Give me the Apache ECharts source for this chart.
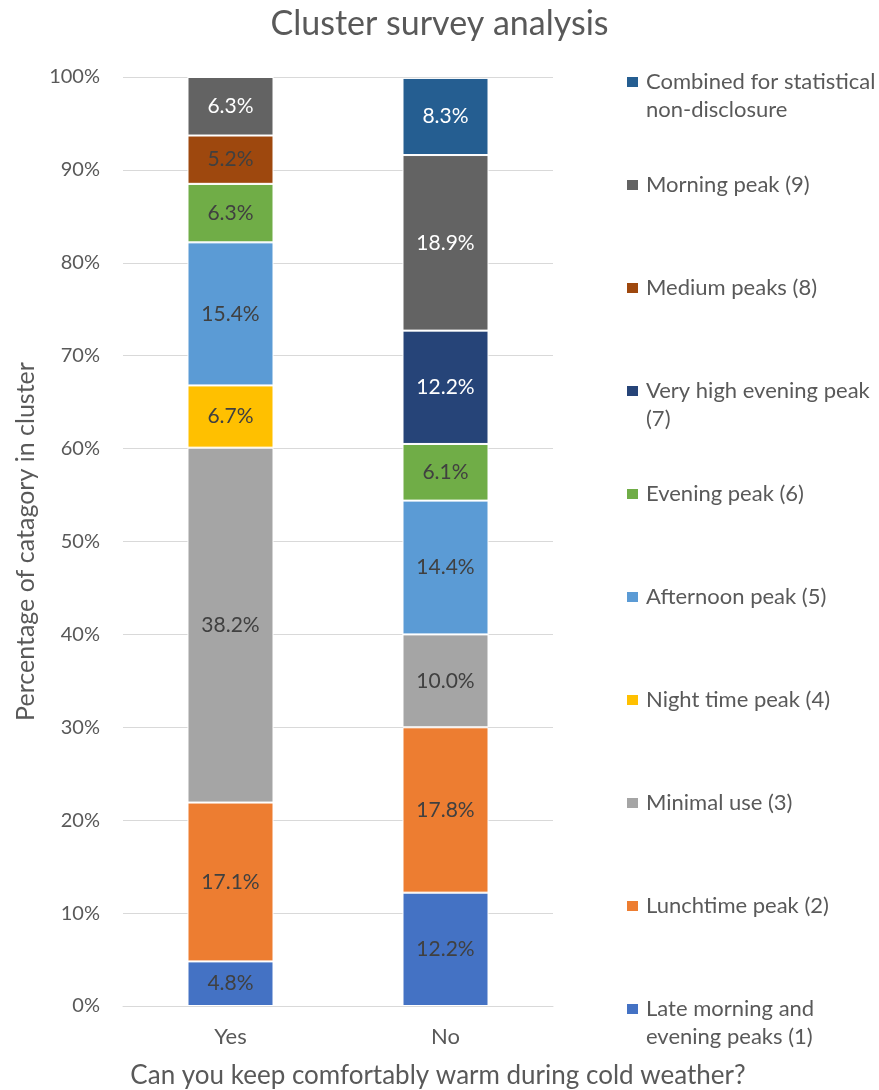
<!DOCTYPE html>
<html>
<head>
<meta charset="utf-8">
<script src="https://cdn.jsdelivr.net/npm/echarts@6/dist/echarts.min.js"></script>
<style>
html,body{margin:0;padding:0;background:#fff;}
#chart{width:879px;height:1090px;}
</style>
</head>
<body>
<div id="chart"></div>
<script>
var categories = ['Yes', 'No'];
var seriesNames = [
  'Late morning and evening peaks (1)',
  'Lunchtime peak (2)',
  'Minimal use (3)',
  'Night time peak (4)',
  'Afternoon peak (5)',
  'Evening peak (6)',
  'Very high evening peak (7)',
  'Medium peaks (8)',
  'Morning peak (9)',
  'Combined for statistical non-disclosure'
];
var legendLabels = [
  'Late morning and\nevening peaks (1)',
  'Lunchtime peak (2)',
  'Minimal use (3)',
  'Night time peak (4)',
  'Afternoon peak (5)',
  'Evening peak (6)',
  'Very high evening peak\n(7)',
  'Medium peaks (8)',
  'Morning peak (9)',
  'Combined for statistical\nnon-disclosure'
];
var lateMorning   = [4.8, 12.2];
var lunchtime     = [17.1, 17.8];
var minimalUse    = [38.2, 10.0];
var nightTime     = [6.7, 0];
var afternoon     = [15.4, 14.4];
var evening       = [6.3, 6.1];
var veryHighEve   = [0, 12.2];
var mediumPeaks   = [5.2, 0];
var morningPeak   = [6.3, 18.9];
var combined      = [0, 8.3];
var yTicks = [0, 10, 20, 30, 40, 50, 60, 70, 80, 90, 100];

var allValues = [lateMorning, lunchtime, minimalUse, nightTime, afternoon, evening, veryHighEve, mediumPeaks, morningPeak, combined];
var colors = ['#4472C4', '#ED7D31', '#A5A5A5', '#FFC000', '#5B9BD5', '#70AD47', '#264478', '#9E480E', '#636363', '#255E91'];
var labelColors = ['#404040', '#404040', '#404040', '#404040', '#404040', '#404040', '#FFFFFF', '#404040', '#FFFFFF', '#FFFFFF'];
var FONT = 'Lato';

var series = seriesNames.map(function (name, i) {
  return {
    name: name,
    type: 'bar',
    stack: 'total',
    barWidth: 86,
    data: allValues[i],
    itemStyle: { color: colors[i], borderColor: '#ffffff', borderWidth: 1 },
    label: {
      show: true,
      position: 'inside',
      color: labelColors[i],
      fontFamily: FONT,
      fontSize: 21,
      formatter: function (p) { return p.value > 0 ? p.value.toFixed(1) + '%' : ''; }
    }
  };
});

// legend: one component per item, listed top (Combined) to bottom (Late morning)
var legends = [];
var LH = 28;
for (var k = 0; k < seriesNames.length; k++) {
  var idx = seriesNames.length - 1 - k;
  var center = 82 + 103 * k;
  var twoLine = legendLabels[idx].indexOf('\n') >= 0;
  (function (idx, twoLine) {
    legends.push({
      data: [seriesNames[idx]],
      left: 625,
      top: twoLine ? center - 1.5 * LH : center - LH / 2,
      padding: 0,
      orient: 'vertical',
      itemWidth: 13,
      itemHeight: 12,
      itemGap: 0,
      icon: 'rect',
      selectedMode: false,
      formatter: function () { return twoLine ? '\n' + legendLabels[idx] : legendLabels[idx]; },
      textStyle: {
        color: '#595959',
        fontFamily: FONT,
        fontSize: 22,
        lineHeight: LH,
        padding: [0, 0, 0, 2]
      }
    });
  })(idx, twoLine);
}

var chart = echarts.init(document.getElementById('chart'), null, { renderer: 'canvas' });
chart.setOption({
  animation: false,
  color: colors,
  title: {
    text: 'Cluster survey analysis',
    left: 'center',
    top: 2,
    textStyle: { color: '#595959', fontFamily: FONT, fontSize: 34, fontWeight: 'normal' }
  },
  legend: legends,
  grid: { left: 123, right: 326, top: 77, bottom: 84, containLabel: false, outerBoundsMode: 'none' },
  xAxis: {
    type: 'category',
    data: categories,
    name: 'Can you keep comfortably warm during cold weather?',
    nameLocation: 'middle',
    nameGap: 57,
    nameTextStyle: { color: '#595959', fontFamily: FONT, fontSize: 26, padding: [0, 0, 0, 200] },
    axisLine: { show: true, lineStyle: { color: '#D9D9D9', width: 1 } },
    axisTick: { show: false },
    axisLabel: { color: '#595959', fontFamily: FONT, fontSize: 22, margin: 20 }
  },
  yAxis: {
    type: 'value',
    min: yTicks[0],
    max: yTicks[yTicks.length - 1],
    interval: 10,
    name: 'Percentage of catagory in cluster',
    nameLocation: 'middle',
    nameGap: 85,
    nameTextStyle: { color: '#595959', fontFamily: FONT, fontSize: 25 },
    axisLine: { show: false },
    axisTick: { show: false },
    splitLine: { lineStyle: { color: '#D9D9D9', width: 1 } },
    axisLabel: { color: '#595959', fontFamily: FONT, fontSize: 20, margin: 23, formatter: '{value}%' }
  },
  series: series
});
</script>
</body>
</html>
